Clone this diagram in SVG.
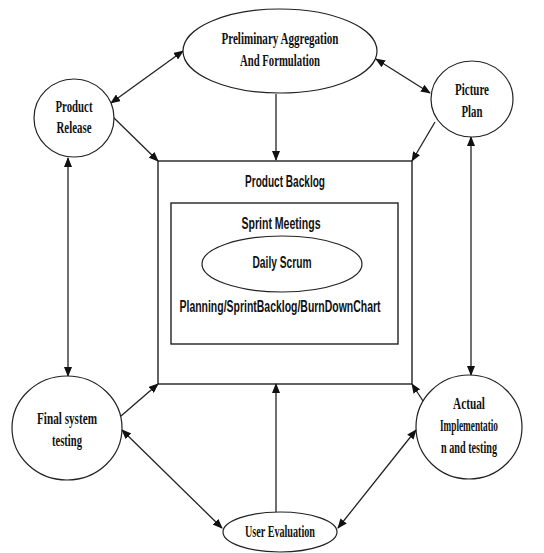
<svg xmlns="http://www.w3.org/2000/svg" width="544" height="553" viewBox="0 0 544 553">
<defs>
<marker id="ah" markerWidth="10" markerHeight="8" refX="9" refY="4" orient="auto-start-reverse" markerUnits="userSpaceOnUse">
<path d="M0,0 L10,4 L0,8 Z" fill="#111"/>
</marker>
<style>
.shape{fill:#fff;stroke:#222;stroke-width:1.2}
.box{fill:none;stroke:#222;stroke-width:1.4}
.con{stroke:#222;stroke-width:1.3;fill:none}
.serif{font-family:"Liberation Serif","Times New Roman",serif;font-weight:bold;font-size:17px;fill:#111;text-anchor:middle}
.sans{font-family:"Liberation Sans",Arial,sans-serif;font-weight:bold;font-size:16px;fill:#111;text-anchor:middle}
</style>
</defs>
<rect width="544" height="553" fill="#fff"/>
<g id="connectors">
<line class="con" x1="183" y1="51" x2="111" y2="103" marker-start="url(#ah)" marker-end="url(#ah)"/>
<line class="con" x1="376" y1="59" x2="430" y2="93" marker-start="url(#ah)" marker-end="url(#ah)"/>
<line class="con" x1="276" y1="94" x2="276" y2="160" marker-end="url(#ah)"/>
<line class="con" x1="113" y1="117" x2="158" y2="161" marker-end="url(#ah)"/>
<line class="con" x1="435" y1="122" x2="412" y2="161" marker-end="url(#ah)"/>
<line class="con" x1="68" y1="158" x2="68" y2="376" marker-start="url(#ah)" marker-end="url(#ah)"/>
<line class="con" x1="471" y1="137" x2="471" y2="375" marker-start="url(#ah)" marker-end="url(#ah)"/>
<line class="con" x1="121" y1="416" x2="158" y2="384" marker-end="url(#ah)"/>
<line class="con" x1="423" y1="401" x2="412" y2="384" marker-end="url(#ah)"/>
<line class="con" x1="276" y1="512" x2="276" y2="384" marker-end="url(#ah)"/>
<line class="con" x1="122" y1="430" x2="222" y2="528" marker-start="url(#ah)" marker-end="url(#ah)"/>
<line class="con" x1="416" y1="430" x2="338" y2="528" marker-start="url(#ah)" marker-end="url(#ah)"/>
</g>
<g id="preliminary">
<ellipse class="shape" cx="280" cy="51" rx="97" ry="42"/>
<text class="serif" x="280" y="44" textLength="117" lengthAdjust="spacingAndGlyphs">Preliminary Aggregation</text>
<text class="serif" x="280" y="66" textLength="80" lengthAdjust="spacingAndGlyphs">And Formulation</text>
</g>
<g id="product-release">
<ellipse class="shape" cx="74" cy="118" rx="40" ry="39"/>
<text class="serif" x="74" y="112" textLength="37" lengthAdjust="spacingAndGlyphs">Product</text>
<text class="serif" x="74" y="133" textLength="35" lengthAdjust="spacingAndGlyphs">Release</text>
</g>
<g id="picture-plan">
<ellipse class="shape" cx="472" cy="99" rx="41" ry="38"/>
<text class="serif" x="472" y="95" textLength="34" lengthAdjust="spacingAndGlyphs">Picture</text>
<text class="serif" x="472" y="117" textLength="21" lengthAdjust="spacingAndGlyphs">Plan</text>
</g>
<g id="product-backlog">
<rect class="box" x="158" y="161" width="254" height="223"/>
<text class="sans" x="285" y="187" textLength="80" lengthAdjust="spacingAndGlyphs">Product Backlog</text>
</g>
<g id="sprint-meetings">
<rect class="box" x="171" y="203" width="227" height="141" stroke-width="1.2"/>
<text class="sans" x="281" y="229" textLength="79" lengthAdjust="spacingAndGlyphs">Sprint Meetings</text>
<text class="sans" x="280" y="312" textLength="201" lengthAdjust="spacingAndGlyphs">Planning/SprintBacklog/BurnDownChart</text>
</g>
<g id="daily-scrum">
<ellipse class="shape" cx="282" cy="264" rx="80" ry="28"/>
<text class="sans" x="282" y="268" textLength="59" lengthAdjust="spacingAndGlyphs">Daily Scrum</text>
</g>
<g id="final-system-testing">
<ellipse class="shape" cx="67" cy="428" rx="55" ry="52"/>
<text class="serif" x="67" y="424" textLength="60" lengthAdjust="spacingAndGlyphs">Final system</text>
<text class="serif" x="67" y="446" textLength="30" lengthAdjust="spacingAndGlyphs">testing</text>
</g>
<g id="actual-implementation">
<ellipse class="shape" cx="469" cy="427" rx="53" ry="52"/>
<text class="serif" x="469" y="409" textLength="32" lengthAdjust="spacingAndGlyphs">Actual</text>
<text class="serif" x="469" y="431" textLength="58" lengthAdjust="spacingAndGlyphs">Implementatio</text>
<text class="serif" x="469" y="453" textLength="56" lengthAdjust="spacingAndGlyphs">n and testing</text>
</g>
<g id="user-evaluation">
<ellipse class="shape" cx="280" cy="532" rx="57" ry="20"/>
<text class="serif" x="280" y="537" textLength="70" lengthAdjust="spacingAndGlyphs">User Evaluation</text>
</g>
</svg>
